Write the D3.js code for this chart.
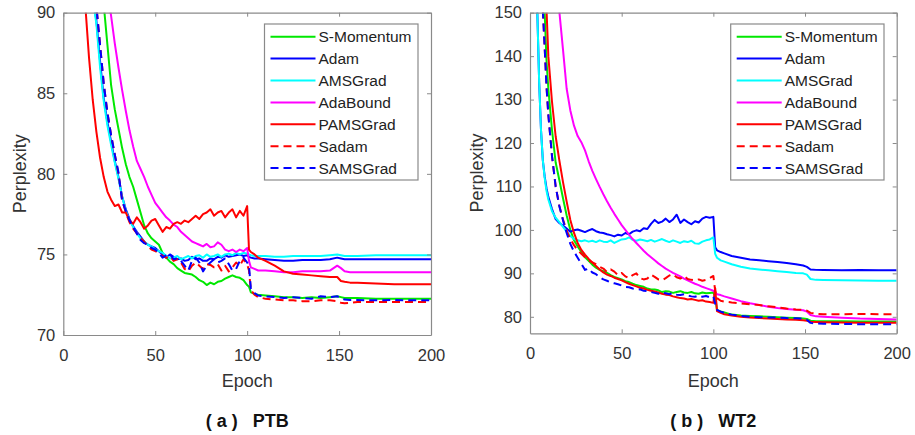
<!DOCTYPE html>
<html>
<head>
<meta charset="utf-8">
<script src="https://cdn.jsdelivr.net/npm/d3@7"></script>
<style>
  body { margin: 0; background: #fff; }
  svg { display: block; }
  text { font-family: "Liberation Sans", Arial, Helvetica, sans-serif; }
</style>
</head>
<body>
<div id="chart"></div>
<script>
// epochs shared by every curve (x values)
var epochs = [1,2,3,4,5,6,7,8,9,10,
  12,14,16,18,20,22,24,26,28,30,32,34,36,38,40,
  42,44,46,48,50,52,54,56,58,60,62,64,66,68,70,
  72,74,76,78,80,82,84,86,88,90,92,94,96,98,100,
  101,102,104,106,110,115,120,125,130,135,140,145,
  149,151,153,156,160,170,180,190,200];

var methods = ["S-Momentum", "Adam", "AMSGrad", "AdaBound", "PAMSGrad", "Sadam", "SAMSGrad"];

// ---- (a) PTB ----
var ptbSMomentum = [200,180,165,152,142,133,126,120,115,111,
  105,100.5,97,94.5,92.3,90.5,88,85.5,84,82.8,81.6,80.6,79.8,79.2,78.4,
  77.6,76.8,76.3,76.0,75.8,75.6,75.1,74.8,74.55,74.4,74.15,74.0,73.85,73.8,73.75,
  73.6,73.4,73.3,73.1,73.25,73.15,73.3,73.35,73.5,73.6,73.7,73.6,73.55,73.4,73.1,
  73.0,72.65,72.55,72.5,72.45,72.4,72.35,72.35,72.3,72.35,72.3,72.35,
  72.4,72.35,72.3,72.3,72.3,72.25,72.25,72.25,72.25];
var ptbAdam = [180,160,145,133,124,117,111,106.5,103,100,
  96,93.3,91.2,89.5,87,84.7,83.2,82,80.8,79.8,78.6,77.8,77.2,76.75,76.4,
  76.1,75.8,75.6,75.5,75.4,75.2,75.0,74.8,75.0,74.85,74.7,74.75,74.6,74.65,74.85,
  74.7,74.75,74.6,74.6,74.75,74.7,74.85,74.8,74.95,74.85,74.9,74.95,75.0,74.9,74.95,
  74.85,74.8,74.75,74.75,74.7,74.65,74.6,74.6,74.65,74.65,74.65,74.7,
  74.8,74.75,74.7,74.7,74.7,74.7,74.7,74.7,74.7];
var ptbAMSGrad = [178,158,143,131,122,115.5,110,105.5,102,99.5,
  95.5,92.8,90.9,89.3,86.6,84.5,83.0,81.8,80.7,79.7,78.6,77.7,77.1,76.7,76.3,
  76.0,75.8,75.6,75.5,75.3,75.2,75.1,74.9,74.75,74.8,74.9,74.7,74.8,74.9,74.75,
  74.9,74.95,74.8,75.0,74.85,74.9,75.0,74.85,75.0,75.05,74.95,75.1,75.0,75.1,75.05,
  75.0,74.95,74.9,74.9,74.9,74.85,74.85,74.9,74.9,74.9,74.9,74.95,
  75.0,74.95,74.9,74.9,74.9,74.95,74.95,74.95,74.95];
var ptbAdaBound = [175,162,152,144,137,131,126,122,119,116,
  111,106.5,102.5,99,96,93.5,91.4,89.8,88.1,86.6,85.2,83.9,82.7,81.7,80.8,
  80.3,79.8,79.2,78.7,78.2,77.9,77.6,77.3,77.1,76.85,76.7,76.4,76.2,76.0,75.8,
  75.7,75.6,75.5,75.65,75.45,75.5,75.75,75.6,75.3,75.2,75.3,75.15,75.3,75.2,75.4,
  74.6,74.2,74.1,74.0,74.0,73.95,73.9,73.9,73.95,73.95,73.95,74.0,
  74.3,74.15,73.95,73.9,73.9,73.9,73.9,73.9,73.9];
var ptbPAMSGrad = [140,130,122,115,109,104,100,97,94.5,92.5,
  90.4,87.2,84.6,82.6,81,79.8,78.9,78.4,78.0,78.1,77.6,77.6,77.1,76.9,77.3,
  77.0,76.6,76.8,77.1,77.2,76.8,76.4,76.7,76.6,76.9,77.0,76.9,77.1,77.0,77.2,
  77.4,77.2,77.5,77.6,77.8,77.4,77.6,77.7,77.3,77.6,77.8,77.3,77.7,77.4,78.0,
  75.3,75.15,75.0,74.8,74.6,74.3,73.95,73.8,73.75,73.7,73.65,73.6,
  73.6,73.35,73.3,73.25,73.25,73.2,73.15,73.15,73.15];
var ptbSadam = [182,162,147,135,126,118.5,112.5,108,104.5,101.5,
  97,94,91.8,90.4,88,85.6,83.8,82.4,81.2,80.0,78.4,77.6,77.0,76.6,76.3,
  76.0,75.8,75.5,75.3,75.2,75.1,74.9,74.8,74.9,74.6,74.7,74.5,74.1,73.95,74.3,
  74.5,74.3,74.1,74.4,74.35,74.2,74.4,74.0,74.3,73.95,74.2,74.5,74.3,74.7,74.4,
  74.0,72.8,72.5,72.35,72.25,72.2,72.15,72.15,72.1,72.1,72.15,72.15,
  72.1,72.0,71.97,72.0,72.05,72.05,72.05,72.05,72.05];
var ptbSAMSGrad = [182,162,147,135,126,118.5,112.5,108,104.5,101.5,
  97,94,91.8,90.4,88,85.6,83.8,82.4,81.2,80.1,78.3,77.7,77.1,76.7,76.3,
  75.9,75.7,75.6,75.4,75.3,75.1,74.8,74.95,75.0,74.7,74.75,74.6,74.3,74.0,74.6,
  74.8,74.5,73.95,74.3,74.5,74.7,74.5,74.6,74.75,74.4,74.0,74.1,74.6,74.8,74.5,
  74.3,72.9,72.6,72.45,72.4,72.35,72.3,72.35,72.3,72.25,72.4,72.35,
  72.4,72.3,72.2,72.17,72.17,72.15,72.17,72.15,72.15];

// ---- (b) WT2 ----
var wt2SMomentum = [340,250,205,180,165,157,152.5,150,139,132.5,
  123,115.5,111.5,107.3,103.3,100,97.6,96.2,94.9,93.7,92.9,92.0,91.3,90.8,90.5,
  90.1,89.6,89.2,88.9,88.6,88.2,88.0,87.6,87.3,87.1,86.9,86.5,86.3,86.3,86.1,
  85.7,85.9,85.8,85.5,85.7,85.9,85.6,85.5,85.7,85.4,85.3,85.6,85.4,85.5,85.6,
  84.5,81.6,81.2,81.0,80.5,80.3,80.2,80.1,80.0,79.9,79.8,79.7,
  79.6,79.5,79.1,79.0,79.0,78.95,78.9,78.9,78.9];
var wt2Adam = [300,220,175,150,134,123,116,112.3,109.6,107.6,
  104.8,102.5,101.6,101.0,100.3,99.6,99.9,100.1,99.8,99.5,99.9,100.2,99.7,99.4,99.3,
  99.0,98.8,98.5,98.9,98.7,99.3,99.0,99.6,99.9,99.7,100.4,100.2,101.4,102.3,101.6,
  101.9,102.6,101.8,102.4,103.5,101.6,102.4,101.8,101.3,102.0,101.7,102.6,103.0,102.8,103.0,
  96.0,95.3,94.9,94.6,94.0,93.6,93.2,93.0,92.8,92.6,92.4,92.1,
  91.8,91.5,90.9,90.8,90.75,90.7,90.75,90.7,90.7];
var wt2AMSGrad = [300,220,175,150,134,123,116,112,109,107,
  104.3,102.8,101.8,100.7,99.6,98.6,97.9,97.6,97.4,97.6,97.3,97.5,97.2,97.6,97.3,
  97.2,97.6,97.0,97.4,97.8,97.9,98.3,97.7,97.5,97.8,97.6,97.4,97.7,97.3,97.6,
  97.9,97.5,97.2,97.6,97.3,97.0,97.4,97.2,97.5,96.9,96.8,97.3,97.6,97.8,98.3,
  94.5,93.6,93.0,92.7,92.1,91.5,91.1,90.9,90.7,90.5,90.3,90.1,
  90.0,89.7,88.7,88.5,88.45,88.4,88.35,88.3,88.3];
var wt2AdaBound = [400,330,280,245,220,205,192,182,174,168,
  160,154,150.3,141.5,132.5,127.5,124,121.6,120.2,118.3,115.8,113.6,111.7,109.9,108.2,
  106.6,105.1,103.7,102.4,101.1,100.0,98.9,97.9,97.0,96.1,95.2,94.4,93.7,93.0,92.3,
  91.7,91.1,90.6,90.1,89.7,89.3,88.8,88.4,88.0,87.6,87.3,86.9,86.6,86.3,86.0,
  85.6,85.2,85.0,84.7,84.2,83.6,83.1,82.7,82.3,82.0,81.8,81.6,
  81.5,81.2,80.4,80.1,80.0,79.8,79.6,79.5,79.35];
var wt2PAMSGrad = [350,260,215,190,174,163,157,153,150.8,140,
  129.5,121.5,116,111,106.5,102.3,99.3,97.0,95.4,94.3,93.3,92.5,91.7,90.9,90.2,
  89.7,89.4,89.0,88.7,88.4,88.0,87.6,87.3,87.0,86.7,86.5,86.2,86.0,85.8,85.6,
  85.3,85.1,85.0,84.7,84.5,84.3,84.2,84.0,84.1,83.9,83.7,83.8,83.5,83.4,83.2,
  86.6,81.3,80.9,80.6,80.3,80.0,79.85,79.7,79.6,79.5,79.4,79.3,
  79.2,79.1,78.85,78.8,78.75,78.7,78.65,78.6,78.6];
var wt2Sadam = [330,240,195,172,160,154,150.5,142,133,126.5,
  117,110,105.5,102.4,99.8,97.9,96.5,95.3,94.5,93.7,93.0,92.5,92.1,91.5,91.1,
  90.3,90.9,90.4,89.6,90.1,89.3,88.9,89.6,90.0,88.9,88.6,88.8,89.7,89.2,88.6,
  88.4,88.9,89.5,89.8,89.1,88.8,89.4,88.7,88.5,88.4,88.6,88.3,88.5,88.9,89.4,
  86.0,84.3,83.7,83.5,83.3,83.1,82.9,82.7,82.4,82.2,81.9,81.7,
  81.6,81.4,80.9,80.7,80.6,80.6,80.65,80.6,80.6];
var wt2SAMSGrad = [330,240,195,172,160,154,150.5,142,133,126.5,
  117,110,105.5,102.2,99.3,96.8,95.0,93.6,92.2,90.8,91.1,90.2,89.8,89.1,88.6,
  88.3,87.9,87.7,87.5,87.2,86.9,86.8,86.5,86.4,86.3,86.0,85.9,85.7,85.5,85.3,
  85.6,85.4,85.2,85.5,85.1,85.0,85.2,84.9,84.7,84.6,84.9,84.6,84.8,84.5,84.7,
  83.0,81.6,81.2,80.9,80.5,80.2,80.0,79.9,79.85,79.8,79.7,79.65,
  79.6,79.3,78.6,78.45,78.4,78.35,78.3,78.3,78.3];

var xTicks = [0, 50, 100, 150, 200];
var ptbYTicks = [70, 75, 80, 85, 90];
var wt2YTicks = [80, 90, 100, 110, 120, 130, 140, 150];

// line styles per method
var colors = ["#00e800", "#0000ff", "#00ffff", "#ff00ff", "#ff0000", "#ff0000", "#0000ff"];
var dashes = [null, null, null, null, null, "8,5", "8,5"];

var svg = d3.select("#chart")
    .append("svg")
    .attr("width", 915)
    .attr("height", 435);

svg.append("rect").attr("width", 915).attr("height", 435).attr("fill", "#fff");

function drawPanel(p) {
    var x = d3.scaleLinear().domain([0, 200]).range([p.left, p.right]);
    var y = d3.scaleLinear().domain(p.yDomain).range([p.bottom, p.top]);

    var g = svg.append("g");

    g.append("clipPath")
        .attr("id", p.id + "-clip")
        .append("rect")
        .attr("x", p.left).attr("y", p.top)
        .attr("width", p.right - p.left)
        .attr("height", p.bottom - p.top);

    var line = d3.line()
        .x(function(d) { return x(d[0]); })
        .y(function(d) { return y(d[1]); });

    // curves
    var plot = g.append("g").attr("clip-path", "url(#" + p.id + "-clip)");
    p.series.forEach(function(vals, i) {
        var pts = epochs.map(function(e, k) { return [e, vals[k]]; });
        plot.append("path")
            .attr("d", line(pts))
            .attr("fill", "none")
            .attr("stroke", colors[i])
            .attr("stroke-width", 2)
            .attr("stroke-dasharray", dashes[i])
            .attr("stroke-linejoin", "round");
    });

    // axis-x
    var ax = g.append("g")
        .attr("transform", "translate(0," + p.bottom + ")")
        .call(d3.axisBottom(x).tickValues(xTicks).tickSizeInner(-4).tickSizeOuter(0).tickPadding(14));
    g.append("g")
        .attr("transform", "translate(0," + p.top + ")")
        .call(d3.axisTop(x).tickValues(xTicks).tickSizeInner(-4).tickSizeOuter(0).tickFormat(""));

    // axis-y
    var ay = g.append("g")
        .attr("transform", "translate(" + p.left + ",0)")
        .call(d3.axisLeft(y).tickValues(p.yTicks).tickSizeInner(-4).tickSizeOuter(0).tickPadding(8));
    g.append("g")
        .attr("transform", "translate(" + p.right + ",0)")
        .call(d3.axisRight(y).tickValues(p.yTicks).tickSizeInner(-4).tickSizeOuter(0).tickFormat(""));

    g.selectAll(".domain").attr("stroke", "#8a8a8a").attr("stroke-width", 1.2);
    g.selectAll(".tick line").attr("stroke", "#8a8a8a");
    g.selectAll(".tick text")
        .attr("fill", "#333")
        .attr("font-size", "16.5px")
        .attr("font-family", null);

    // legend
    var lg = g.append("g");
    lg.append("rect")
        .attr("x", p.legend.x).attr("y", 24)
        .attr("width", p.legend.w).attr("height", 156)
        .attr("fill", "#fff")
        .attr("stroke", "#8a8a8a")
        .attr("stroke-width", 1.2);
    methods.forEach(function(name, i) {
        var ly = 36.7 + i * 21.9;
        lg.append("line")
            .attr("x1", p.legend.x + 6).attr("x2", p.legend.x + 51)
            .attr("y1", ly).attr("y2", ly)
            .attr("stroke", colors[i])
            .attr("stroke-width", 2)
            .attr("stroke-dasharray", dashes[i]);
        lg.append("text")
            .attr("x", p.legend.x + 54)
            .attr("y", ly)
            .attr("dy", "0.35em")
            .attr("font-size", "15.5px")
            .attr("fill", "#222")
            .text(name);
    });

    // labels
    var cx = (p.left + p.right) / 2;
    g.append("text")
        .attr("x", cx).attr("y", 387)
        .attr("text-anchor", "middle")
        .attr("font-size", "18px")
        .attr("fill", "#333")
        .text("Epoch");
    g.append("text")
        .attr("transform", "translate(" + p.yLabelX + "," + ((p.top + p.bottom) / 2) + ") rotate(-90)")
        .attr("text-anchor", "middle")
        .attr("font-size", "18px")
        .attr("fill", "#333")
        .text("Perplexity");
    g.append("text")
        .attr("x", cx).attr("y", 427)
        .attr("text-anchor", "middle")
        .attr("font-size", "18px")
        .attr("font-weight", "bold")
        .attr("fill", "#111")
        .style("white-space", "pre")
        .text(p.title);
}

drawPanel({
    id: "ptb", left: 63.3, right: 431, top: 12.7, bottom: 335,
    yDomain: [70, 90], yTicks: ptbYTicks,
    series: [ptbSMomentum, ptbAdam, ptbAMSGrad, ptbAdaBound, ptbPAMSGrad, ptbSadam, ptbSAMSGrad],
    legend: { x: 264.5, w: 153.5 },
    yLabelX: 25.5,
    title: "( a )   PTB"
});

drawPanel({
    id: "wt2", left: 530, right: 896.7, top: 12.7, bottom: 333.3,
    yDomain: [76.2, 150], yTicks: wt2YTicks,
    series: [wt2SMomentum, wt2Adam, wt2AMSGrad, wt2AdaBound, wt2PAMSGrad, wt2Sadam, wt2SAMSGrad],
    legend: { x: 730.7, w: 153.3 },
    yLabelX: 483,
    title: "( b )   WT2"
});
</script>
</body>
</html>
